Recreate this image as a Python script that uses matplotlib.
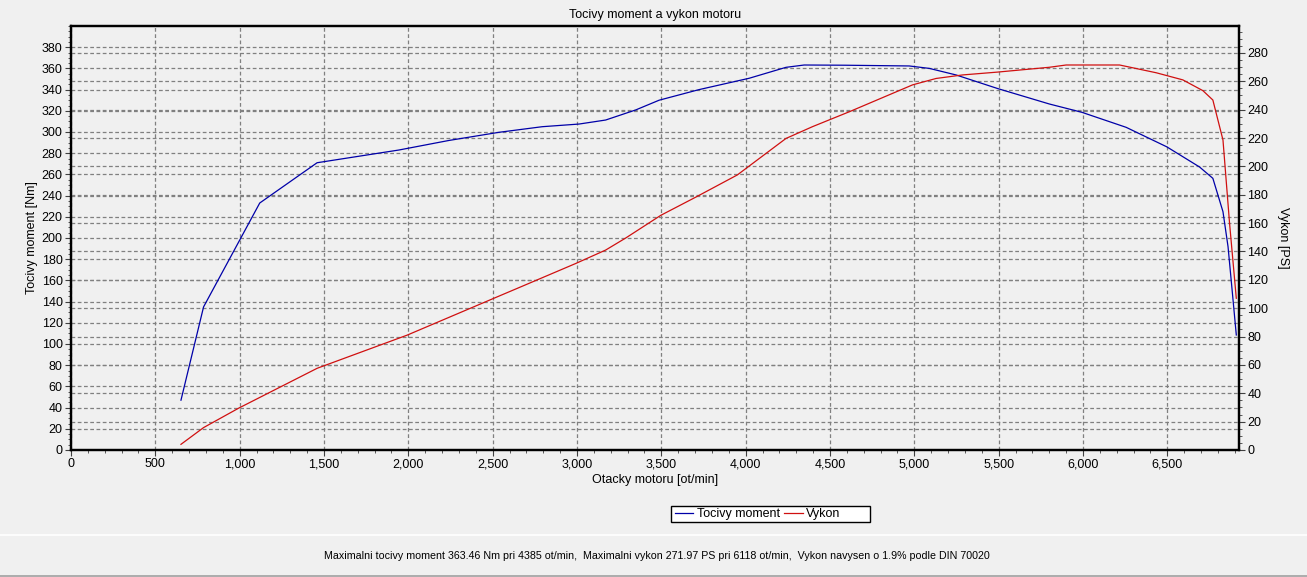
import matplotlib
matplotlib.use("Agg")
import matplotlib.pyplot as plt
from matplotlib.ticker import MultipleLocator, FuncFormatter
from matplotlib.lines import Line2D
from matplotlib.patches import Rectangle

# Tocivy moment [Nm] nad otackami
otacky_m = [652, 786, 1119, 1459, 1944, 2240, 2537, 2794, 3012, 3170, 3348, 3487, 3724,
            4021, 4239, 4347, 4585, 4970, 5089, 5248, 5494, 5801, 5993, 6256, 6497,
            6691, 6770, 6830, 6860, 6886, 6909]
moment = [47, 135, 233, 271, 283, 292, 299.7, 305, 307.5, 311.3, 320.8, 330, 340,
          350.7, 361, 363.2, 363, 362.3, 360, 353.8, 341, 326.4, 318.6, 304.4, 286,
          267, 256.3, 224.8, 191.8, 147.8, 108.5]

# Vykon [PS] nad otackami
otacky_v = [652, 786, 994, 1459, 1993, 2537, 2656, 2992, 3170, 3289, 3497, 3704, 3951,
            4239, 4396, 4614, 4990, 5129, 5287, 5494, 5801, 5900, 6217, 6435, 6592,
            6711, 6770, 6830, 6869, 6909]
vykon = [4.0, 15.8, 29.5, 57.6, 81.0, 108.5, 114.5, 131.5, 141, 149.5, 165.5, 178.3, 194,
         219.7, 228, 238.5, 257.5, 262, 264.5, 266.5, 269.9, 271.5, 271.5, 266, 261,
         253.4, 246.8, 218.6, 159.9, 107]

x_ticks = list(range(0, 7000, 500))
y1_ticks = list(range(0, 381, 20))
y2_ticks = list(range(0, 281, 20))

bg = "#f0f0f0"
plt.rcParams['font.family'] = ['Liberation Sans', 'DejaVu Sans']
plt.rcParams['font.size'] = 9

fig = plt.figure(figsize=(13.07, 5.77), dpi=100, facecolor=bg)
ax = fig.add_axes([71/1307, 1-450/577, (1239-71)/1307, (450-26)/577])
ax.set_facecolor(bg)
ax2 = ax.twinx()

ax.set_xlim(0, 6925)
ax.set_ylim(0, 400)
ax2.set_ylim(0, 299)

ax.set_xticks(x_ticks)
ax.xaxis.set_major_formatter(FuncFormatter(lambda v, p: f"{int(v):,}"))
ax.xaxis.set_minor_locator(MultipleLocator(100))
ax.set_yticks(y1_ticks)
ax.yaxis.set_minor_locator(MultipleLocator(5))
ax2.set_yticks(y2_ticks)
ax2.yaxis.set_minor_locator(MultipleLocator(5))

grid_kw = dict(color="#808080", linestyle=(0, (3, 2)), linewidth=0.9)
ax.grid(True, which="major", **grid_kw)
ax2.grid(True, which="major", axis="y", **grid_kw)
ax.set_axisbelow(True)
ax2.set_axisbelow(True)

for a in (ax, ax2):
    for s in a.spines.values():
        s.set_color("black")
        s.set_linewidth(1.6)
    a.tick_params(which="major", length=4, width=0.8, color="#404040", pad=2, labelsize=9)
    a.tick_params(which="minor", length=2, width=0.6, color="#404040")
ax.tick_params(which="both", top=False, right=False)
ax2.tick_params(which="both", top=False, left=False, bottom=False)

# moment kreslime do ax2 pres transformaci ax, aby mrizka byla pod carami
l1, = ax2.plot(otacky_m, moment, color="#0000a8", linewidth=0.9, transform=ax.transData,
               label="Tocivy moment")
l2, = ax2.plot(otacky_v, vykon, color="#d01010", linewidth=0.9, label="Vykon")
ax2.set_ylim(0, 299)

ax.set_title("Tocivy moment a vykon motoru", fontsize=9, pad=6)
ax.set_xlabel("Otacky motoru [ot/min]", fontsize=9, labelpad=3)
ax.set_ylabel("Tocivy moment [Nm]", fontsize=9, labelpad=3)
ax2.set_ylabel("Vykon [PS]", fontsize=9, rotation=270, labelpad=15)

# ramecek legendy je sirsi nez jeji obsah
fig.add_artist(Rectangle((671/1307, 1-522/577), 199/1307, 16/577, transform=fig.transFigure,
                         facecolor="white", edgecolor="black", linewidth=1.0))
leg = fig.legend(handles=[l1, l2], loc="center left", bbox_to_anchor=(672/1307, 1-514/577),
                 ncol=2, frameon=False, fontsize=9, handlelength=1.5,
                 handletextpad=0.3, columnspacing=0.3, borderpad=0.2, borderaxespad=0)

fig.add_artist(Line2D([0, 1], [1-535/577, 1-535/577], color="white", linewidth=1.2))
fig.add_artist(Line2D([0, 1], [1-576/577, 1-576/577], color="#a0a0a0", linewidth=1.2))

fig.text(657/1307, 1-556/577,
         "Maximalni tocivy moment 363.46 Nm pri 4385 ot/min,  Maximalni vykon 271.97 PS pri 6118 ot/min,  Vykon navysen o 1.9% podle DIN 70020",
         ha="center", va="center", fontsize=7.7)

fig.savefig("out.png", dpi=100, facecolor=bg)
